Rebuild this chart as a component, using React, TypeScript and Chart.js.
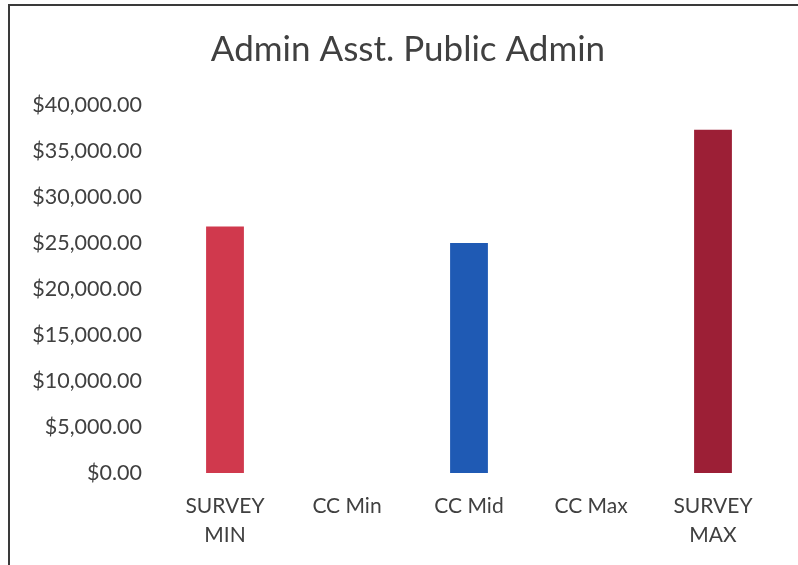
import React, { useEffect, useRef } from "react";
import { Chart, registerables } from "chart.js";

Chart.register(...registerables);

const TITLE = "Admin Asst. Public Admin";
const categories: (string | string[])[] = [["SURVEY", "MIN"], "CC Min", "CC Mid", "CC Max", ["SURVEY", "MAX"]];
const values: (number | null)[] = [26800, null, 25000, null, 37300];
const barColors = ["#d0394d", "#d0394d", "#1f5ab4", "#1f5ab4", "#9c1f36"];
const yMin = 0;
const yMax = 40000;
const yStep = 5000;

const FONT = "Lato, 'Open Sans', sans-serif";
const TEXT = "#404040";

const shiftTitle = {
  id: "shiftTitle",
  afterLayout(chart: any) {
    if (chart.titleBlock) chart.titleBlock.left = 42;
  },
};

export default function App() {
  const ref = useRef<HTMLCanvasElement | null>(null);
  useEffect(() => {
    if (!ref.current) return;
    const chart = new Chart(ref.current, {
      type: "bar",
      data: {
        labels: categories,
        datasets: [
          {
            data: values,
            backgroundColor: barColors,
            borderWidth: 0,
            barPercentage: 0.31,
            categoryPercentage: 1,
          },
        ],
      },
      plugins: [shiftTitle],
      options: {
        animation: false,
        responsive: false,
        maintainAspectRatio: false,
        layout: { padding: { top: 0, right: 24, bottom: 0, left: 0 } },
        plugins: {
          legend: { display: false },
          tooltip: { enabled: false },
          title: {
            display: true,
            text: TITLE,
            color: TEXT,
            font: { family: FONT, size: 35, weight: "normal", lineHeight: 1.2 },
            padding: { top: 29, bottom: 34 },
          },
        },
        scales: {
          x: {
            grid: { display: false, drawTicks: false },
            border: { display: false },
            ticks: {
              color: TEXT,
              font: { family: FONT, size: 21, lineHeight: 1.38 },
              padding: 19,
              maxRotation: 0,
              autoSkip: false,
            },
            afterFit: (s: any) => {
              s.height = 92;
            },
          },
          y: {
            min: yMin,
            max: yMax,
            grid: { display: false, drawTicks: false },
            border: { display: false },
            ticks: {
              stepSize: yStep,
              color: TEXT,
              font: { family: FONT, size: 21.5 },
              padding: 22,
              callback: (v: any) =>
                "$" + Number(v).toLocaleString("en-US", { minimumFractionDigits: 2, maximumFractionDigits: 2 }),
            },
            afterFit: (s: any) => {
              s.width = 164;
            },
          },
        },
      },
    });
    return () => chart.destroy();
  }, []);

  return (
    <div style={{ position: "fixed", left: 0, top: 0, width: 798, height: 565, background: "#fff", overflow: "hidden" }}>
      <div
        style={{
          position: "absolute",
          left: 8,
          top: 4,
          width: 820,
          height: 600,
          borderTop: "2px solid #3a3a3a",
          borderLeft: "2px solid #3a3a3a",
        }}
      />
      <canvas ref={ref} width={798} height={565} style={{ position: "absolute", left: 0, top: 0 }} />
    </div>
  );
}
